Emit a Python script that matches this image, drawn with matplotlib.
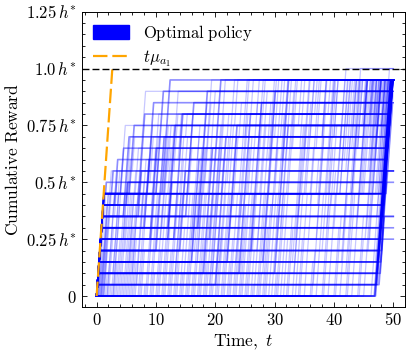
import matplotlib
matplotlib.use("Agg")
import matplotlib.pyplot as plt
from matplotlib.patches import Patch
from matplotlib.lines import Line2D
from matplotlib.ticker import MultipleLocator, FixedLocator, FixedFormatter

plt.rcParams['mathtext.fontset'] = 'cm'
plt.rcParams['font.family'] = 'serif'
plt.rcParams['font.serif'] = ['DejaVu Serif']

# ---- data ----
horizon = 50.0            # last time step
step = 0.05               # reward quantum (fraction of h*)
mu_ramp = 0.36            # slope of reward accumulation (h* per unit time)
h_star = 1.0

orange_t = [0.0, 2.65]
orange_y = [0.0, 1.0]

# Frequent optimal-policy paths: list of (ramp start time, ramp size in quanta)
bold_paths = [
    [(46.8, 19)], [(47.0, 9), (48.4, 10)], [(46.9, 19)],
    [(0, 1), (47.1, 18)], [(0, 1), (47.6, 4)], [(0, 1), (47.2, 18)],
    [(0, 2), (47.3, 17)], [(0, 2), (47.8, 5)], [(0, 2), (47.3, 17)],
    [(0, 3), (47.4, 16)], [(0, 3), (47.9, 3)], [(0, 3), (47.5, 16)],
    [(0, 4), (47.6, 15)], [(0, 4), (48.0, 6)], [(0, 4), (47.6, 15)],
    [(0, 5), (47.7, 14)], [(0, 5), (48.1, 2)], [(0, 5), (47.8, 14)],
    [(0, 6), (47.9, 13)], [(0, 6), (48.2, 5)], [(0, 6), (47.9, 13)],
    [(0, 7), (48.0, 12)], [(0, 7), (48.3, 4)], [(0, 7), (48.1, 12)],
    [(0, 8), (48.2, 11)], [(0, 8), (48.4, 3)], [(0, 8), (48.2, 11)],
    [(0, 9), (48.3, 10)], [(0, 9), (48.4, 10)], [(0, 9), (48.4, 10)],
    [(0, 9), (1.5, 1), (48.5, 9)], [(0, 8), (5, 2), (48.6, 9)], [(0, 5), (12, 5), (48.5, 9)],
    [(0, 9), (2.5, 2), (48.7, 8)], [(0, 7), (7, 4), (48.7, 8)], [(0, 4), (14, 7), (48.8, 8)],
    [(0, 8), (3.0, 4), (48.8, 7)], [(0, 6), (8, 6), (48.9, 7)], [(0, 3), (16, 9), (48.9, 7)],
    [(0, 9), (4.0, 4), (49.0, 6)], [(0, 5), (9, 8), (49.0, 6)], [(0, 2), (18, 11), (49.1, 6)],
    [(0, 7), (4.5, 7), (49.1, 5)], [(0, 4), (10, 10), (49.2, 5)], [(0, 1), (20, 13), (49.2, 5)],
    [(0, 9), (5.5, 6), (49.3, 4)], [(0, 6), (12, 9), (49.3, 4)], [(0, 3), (22, 12), (49.4, 4)],
    [(0, 8), (7.0, 8), (49.4, 3)], [(0, 5), (13, 11), (49.5, 3)], [(0, 2), (24, 14), (49.5, 3)],
    [(0, 9), (8.5, 8), (49.6, 2)], [(0, 7), (15, 10), (49.6, 2)], [(0, 4), (26, 13), (49.6, 2)],
    [(0, 9), (10, 9), (49.7, 1)], [(0, 6), (17, 12), (49.7, 1)], [(0, 3), (28, 15), (49.8, 1)],
    [(0, 9), (11, 10)], [(0, 5), (19, 14)], [(0, 2), (30, 17)],
]

# Less frequent optimal-policy realisations
faint_paths = [
    [(0.5, 4), (9, 6), (30, 9)],
    [(1, 9), (14, 5), (36, 5)],
    [(1.5, 2), (6, 8), (22, 9)],
    [(2, 6), (11, 7), (41, 6)],
    [(2.5, 9), (7, 9), (47, 1)],
    [(3, 3), (17, 10), (44, 6)],
    [(3.5, 9), (5, 5), (25, 5)],
    [(4, 7), (20, 7), (38, 5)],
    [(5, 9), (12, 4), (33, 6)],
    [(6, 5), (16, 9), (46, 5)],
    [(7, 9), (26, 8), (48, 2)],
    [(8, 1), (19, 12), (43, 6)],
    [(9, 9), (10, 3), (29, 7)],
    [(10, 8), (23, 6), (40, 5)],
    [(11, 9), (18, 10)],
    [(12, 4), (27, 11), (47, 4)],
    [(13, 9), (21, 3), (35, 7)],
    [(14, 6), (31, 9), (45, 4)],
    [(15, 9), (24, 10)],
    [(16, 2), (28, 9), (42, 8)],
    [(17, 9), (32, 9)],
    [(18, 7), (34, 8), (48, 4)],
    [(19, 9), (30, 4), (44, 6)],
    [(20, 5), (37, 12)],
    [(21, 9), (39, 9)],
    [(22, 3), (33, 10), (47, 6)],
    [(23, 9), (41, 8)],
    [(24, 8), (36, 11)],
    [(25, 9), (29, 6), (46, 4)],
    [(26, 4), (38, 15)],
    [(27, 9), (43, 10)],
    [(28, 6), (40, 9), (48, 4)],
    [(29, 9), (35, 8)],
    [(30, 2), (42, 18)],
    [(31, 9), (45, 10)],
    [(32, 7), (44, 12)],
    [(33, 9), (37, 3), (47, 7)],
    [(34, 5), (46, 14)],
    [(35, 9), (41, 10)],
    [(36, 3), (47, 17)],
    [(37, 9), (43, 6), (49, 4)],
    [(38, 8), (48, 11)],
    [(39, 9), (46, 9)],
    [(40, 6), (48, 13)],
    [(41, 9), (47, 10)],
    [(42, 4), (47.5, 15)],
    [(43, 9), (48, 10)],
    [(44, 7), (48.3, 12)],
    [(45, 9), (48.8, 8)],
    [(0.3, 9), (2.2, 2), (6, 3), (15, 2), (27, 3)],
    [(0.8, 7), (3, 4), (12, 4), (34, 4)],
    [(1.2, 9), (4, 6), (19, 2), (40, 2)],
    [(0.2, 5), (4.5, 5), (9, 4), (31, 5)],
    [(0.6, 8), (3.5, 3), (10, 3), (22, 2), (45, 3)],
    [(1.8, 9), (6.5, 4), (14, 3), (28, 3)],
    [(0.4, 3), (5.5, 8), (13, 5), (39, 3)],
    [(2.8, 9), (8.5, 5), (21, 5)],
    [(0.9, 6), (7.5, 6), (17, 3), (33, 4)],
    [(1.1, 9), (9.5, 7), (26, 3)],
    [(4.5, 9), (11.5, 5), (24, 3), (42, 2)],
    [(0.7, 9), (12.5, 9), (46, 1)],
    [(5.5, 8), (14.5, 6), (30, 5)],
    [(6.5, 9), (15.5, 4), (32, 6)],
    [(7.5, 4), (16.5, 9), (37, 6)],
    [(8.5, 9), (17.5, 8), (44, 2)],
    [(9.5, 2), (19.5, 11), (35, 6)],
    [(10.5, 9), (20.5, 7), (46, 3)],
    [(11.5, 6), (22.5, 8), (40, 5)],
    [(12.5, 9), (25.5, 5), (38, 5)],
    [(13.5, 3), (23.5, 12), (45, 4)],
    [(14.5, 9), (27.5, 9), (49, 1)],
    [(15.5, 7), (29.5, 7), (43, 5)],
    [(16.5, 9), (31.5, 6), (47, 4)],
    [(17.5, 5), (33.5, 10), (46, 4)],
    [(18.5, 9), (34.5, 5), (45, 5)],
    [(19.5, 1), (36.5, 13), (48, 5)],
    [(20.5, 9), (38.5, 10)],
    [(21.5, 8), (39.5, 7), (47.5, 4)],
    [(22.5, 9), (40.5, 11)],
    [(23.5, 4), (42.5, 15)],
    [(24.5, 9), (44.5, 9)],
    [(25.5, 6), (45.5, 13)],
    [(26.5, 9), (46.5, 10)],
    [(27.5, 2), (47.2, 17)],
    [(28.5, 9), (47.8, 10)],
    [(29.5, 7), (48.2, 12)],
    [(30.5, 9), (36, 4), (48.6, 6)],
    [(31.5, 5), (41.5, 9), (48.9, 5)],
    [(33.5, 9), (40, 2), (46, 8)],
    [(0.25, 2), (2.75, 7), (11.25, 6), (29.75, 4)],
    [(0.75, 9), (3.25, 1), (8.75, 5), (23.25, 4)],
    [(1.25, 4), (4.75, 6), (18.25, 5), (42.25, 4)],
    [(1.75, 9), (5.25, 3), (13.75, 4), (36.75, 3)],
    [(2.25, 1), (6.75, 9), (20.25, 5), (44.75, 4)],
    [(2.75, 8), (9.25, 5), (27.25, 6)],
    [(3.25, 5), (10.75, 7), (31.25, 7)],
    [(3.75, 9), (12.25, 6), (38.25, 4)],
    [(4.25, 2), (13.25, 10), (41.75, 7)],
    [(4.75, 9), (15.25, 7), (45.25, 3)],
    [(5.25, 6), (17.25, 7), (34.25, 6)],
    [(5.75, 9), (18.75, 9)],
    [(6.25, 3), (20.75, 11), (47.25, 5)],
    [(7.25, 9), (22.25, 6), (43.25, 4)],
    [(8.25, 7), (24.25, 9), (46.25, 3)],
    [(9.25, 9), (25.25, 4), (39.25, 6)],
    [(10.25, 4), (26.25, 12), (48.25, 3)],
    [(11.25, 9), (28.25, 8), (47.75, 2)],
    [(12.25, 6), (30.25, 10), (46.75, 3)],
    [(13.25, 9), (32.25, 7), (48.75, 3)],
    [(14.25, 2), (33.25, 9), (45.75, 8)],
    [(15.25, 9), (35.25, 10)],
    [(16.25, 8), (37.25, 7), (48.5, 4)],
    [(17.25, 9), (39.25, 4), (47.0, 6)],
    [(18.25, 3), (41.25, 16)],
    [(19.25, 9), (42.75, 10)],
    [(20.25, 6), (43.75, 13)],
    [(21.25, 9), (44.25, 10)],
    [(22.25, 5), (45.25, 14)],
    [(23.25, 9), (46.25, 10)],
    [(24.25, 7), (47.25, 12)],
    [(25.25, 9), (47.75, 10)],
    [(26.25, 1), (47.4, 18)],
    [(27.25, 9), (48.25, 10)],
    [(28.25, 8), (48.4, 11)],
    [(30.25, 9), (48.75, 9)],
    [(32.25, 6), (38.75, 5), (47.5, 8)],
    [(34.25, 9), (44.75, 10)],
    [(36.25, 4), (45.75, 15)],
    [(38.25, 9), (47.25, 10)],
    [(40.25, 7), (48.25, 12)],
    [(42.25, 9), (47.5, 10)],
    [(44.25, 5), (48.0, 14)],
    [(46.25, 9), (48.8, 8)],
]

y_ticks = [0, 0.25, 0.5, 0.75, 1.0, 1.25]
y_tick_labels = [r'$0$', r'$0.25\,h^{*}$', r'$0.5\,h^{*}$', r'$0.75\,h^{*}$',
                 r'$1.0\,h^{*}$', r'$1.25\,h^{*}$']
x_ticks = [0, 10, 20, 30, 40, 50]


def path_xy(ramps):
    xs, ys = [0.0], [0.0]
    y = 0.0
    for t0, n in ramps:
        dy = n * step
        xs += [t0, min(t0 + dy / mu_ramp, horizon)]
        ys += [y, y + dy]
        y += dy
    xs.append(horizon)
    ys.append(y)
    return xs, ys


fig = plt.figure(figsize=(4.13, 3.55), dpi=100)
ax = fig.add_axes([0.198, 0.136, 0.783, 0.831])

for p in faint_paths:
    xs, ys = path_xy(p)
    ax.plot(xs, ys, color='blue', alpha=0.22, lw=0.9)
for p in bold_paths:
    xs, ys = path_xy(p)
    ax.plot(xs, ys, color='blue', alpha=0.45, lw=1.2)

ax.plot(orange_t, orange_y, color='orange', lw=1.6, linestyle=(0, (6.5, 2.2)))
ax.axhline(h_star, color='black', lw=1.0, linestyle=(0, (5, 2.2)))

ax.set_xlim(-2.5, 52)
ax.set_ylim(-0.047, 1.25)
ax.xaxis.set_major_locator(FixedLocator(x_ticks))
ax.xaxis.set_minor_locator(MultipleLocator(2))
ax.yaxis.set_major_locator(FixedLocator(y_ticks))
ax.yaxis.set_major_formatter(FixedFormatter(y_tick_labels))
ax.yaxis.set_minor_locator(MultipleLocator(0.05))
ax.set_xticklabels([r'$%d$' % v for v in x_ticks])

ax.tick_params(which='both', direction='in', top=True, right=True, labelsize=12, width=0.6)
ax.tick_params(which='major', length=3.6)
ax.tick_params(which='minor', length=2.0)
for s in ax.spines.values():
    s.set_linewidth(0.7)

ax.set_xlabel(r'$\mathrm{Time},\ t$', fontsize=12.5, labelpad=3)
ax.set_ylabel(r'$\mathrm{Cumulative\ Reward}$', fontsize=12.5, labelpad=3)

handles = [Patch(facecolor='blue', edgecolor='blue', label=r'$\mathrm{Optimal\ policy}$'),
           Line2D([0], [0], color='orange', lw=1.6, linestyle=(0, (6.5, 2.2)), label=r'$t\mu_{a_1}$')]
ax.legend(handles=handles, loc='upper left', frameon=False, fontsize=12,
          handlelength=2.2, handleheight=0.9, borderaxespad=0.25, labelspacing=0.35)

fig.savefig('out.png', dpi=100)
